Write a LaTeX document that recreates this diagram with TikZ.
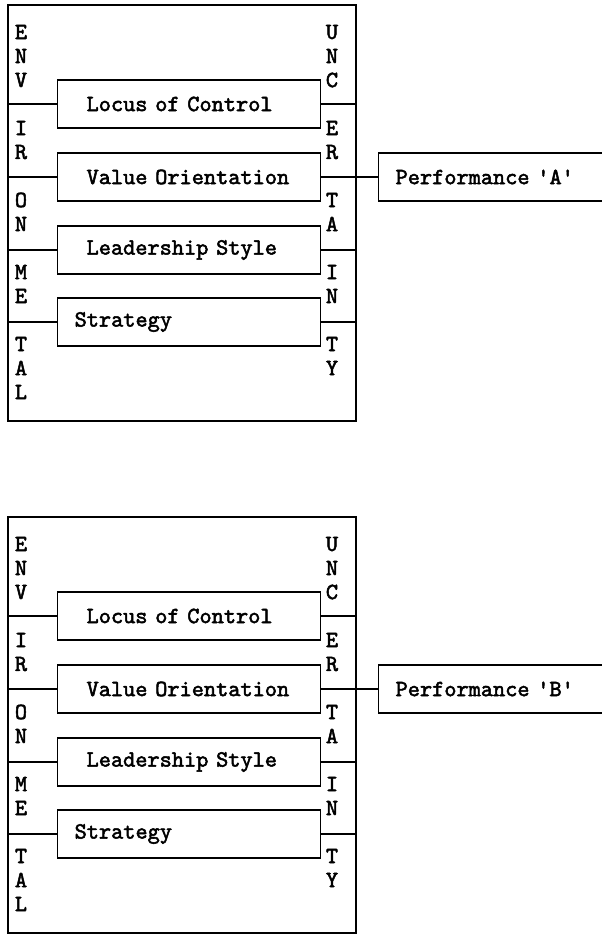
\documentclass[tikz,border=0pt]{standalone}
\usepackage{fontspec}
\newfontfamily\figfont{lmmono10-regular}[Extension=.otf, FakeBold=2.2]
\begin{document}
\begin{tikzpicture}[x=1pt, y=-1pt, line width=1.2pt,
    font=\figfont\fontsize{23.2}{24}\selectfont,
    factor/.style={draw, anchor=west, minimum height=48pt, inner xsep=29pt,
      text width=205pt, align=left},
    letter/.style={inner sep=0pt}]
  \useasboundingbox (0,0) rectangle (602,934);
  \foreach \d/\off in {A/0, B/512} {
    \begin{scope}[yshift=-\off pt]
      \node [draw, minimum width=348pt, minimum height=416pt, inner sep=0pt]
        (env\d) at (182,213) {};
      \node [factor] (loc\d) at (57,104) {Locus of Control};
      \node [factor] (val\d) at (57,177) {Value Orientation};
      \node [factor] (lead\d) at (57,250) {Leadership Style};
      \node [factor, inner xsep=17pt, text width=229pt] (strat\d) at (57,322) {Strategy};
      \node [factor, inner xsep=17pt, text width=250pt] (perf\d) at (378,177) {Performance '\d'};
      % side letters
      \foreach \c/\r in {E/1,N/2,V/3,I/5,R/6,O/8,N/9,M/11,E/12,T/14,A/15,L/16}
        \node [letter] (envl\d\r) at (21,{8+24*\r}) {\c};
      \foreach \c/\r in {U/1,N/2,C/3,E/5,R/6,T/8,A/9,I/11,N/12,T/14,Y/15}
        \node [letter] (unc\d\r) at (332,{8+24*\r}) {\c};
      \foreach \f in {loc,val,lead,strat} {
        \draw (\f\d.west -| env\d.west) -- (\f\d.west);
        \draw (\f\d.east) -- (\f\d.east -| env\d.east);
      }
      \draw (val\d.east) -- (perf\d.west);
    \end{scope}
  }
\end{tikzpicture}
\end{document}
